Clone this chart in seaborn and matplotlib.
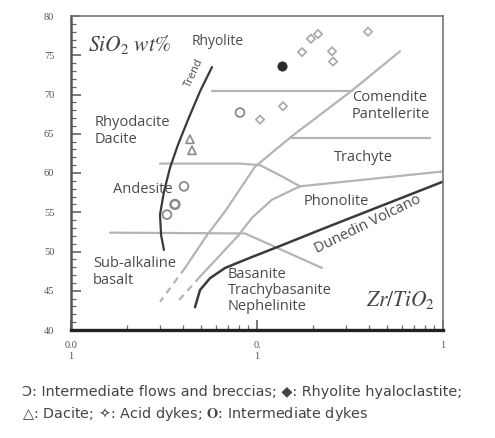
import numpy as np
import pandas as pd
import matplotlib
matplotlib.use("Agg")
import matplotlib.pyplot as plt
import seaborn as sns

# ---------------- data (Zr/TiO2, SiO2 wt%) ----------------
flows_zr = [0.0405, 0.0328, 0.0810]
flows_si = [58.3, 54.7, 67.7]
dykes_zr = [0.0362]
dykes_si = [56.0]
dacite_zr = [0.0436, 0.0447]
dacite_si = [64.3, 62.9]
acid_zr = [0.1038, 0.138, 0.1746, 0.195, 0.2128, 0.2531, 0.2563, 0.3953]
acid_si = [66.8, 68.5, 75.4, 77.1, 77.7, 75.5, 74.2, 78.0]
hyalo_zr = [0.1362]
hyalo_si = [73.6]

# field boundaries (gray)
b_rhy_zr = [0.0573, 0.324]
b_rhy_si = [70.5, 70.5]
b_diag1_zr = [0.587, 0.324, 0.1542, 0.0975, 0.0673, 0.0539, 0.0410]
b_diag1_si = [75.5, 70.5, 64.7, 60.8, 55.1, 52.1, 47.9]
b_diag1d_zr = [0.0410, 0.0301]
b_diag1d_si = [47.9, 43.6]
b_trach_zr = [0.1542, 0.8513]
b_trach_si = [64.5, 64.5]
b_and_zr = [0.0301, 0.081, 0.1038, 0.1329, 0.1703]
b_and_si = [61.2, 61.2, 61.0, 59.7, 58.3]
b_phon_zr = [0.1703, 1.0]
b_phon_si = [58.3, 60.2]
b_diag2_zr = [0.1703, 0.1204, 0.0940, 0.0791, 0.0494]
b_diag2_si = [58.3, 56.6, 54.3, 52.0, 46.8]
b_diag2d_zr = [0.0494, 0.0371]
b_diag2d_si = [46.8, 43.5]
b_bas_zr = [0.0162, 0.0862, 0.2237]
b_bas_si = [52.4, 52.3, 47.9]

# dark lines
trend_zr = [0.0573, 0.0494, 0.0426, 0.0376, 0.0341, 0.0316, 0.0301, 0.0305, 0.0316]
trend_si = [73.5, 70.4, 66.8, 63.6, 60.7, 57.6, 54.7, 52.1, 50.2]
dun_zr = [0.0464, 0.0494, 0.0559, 0.0673, 0.0917, 0.1329, 0.2320, 1.0]
dun_si = [42.9, 45.1, 46.6, 47.9, 49.2, 50.7, 53.0, 58.9]

y_ticks = [40, 45, 50, 55, 60, 65, 70, 75, 80]
x_ticks = [0.01, 0.1, 1]
x_ticklabels = ["0.0\n1", "0.\n1", "1"]

# ---------------- figure ----------------
sns.set_style("white")
plt.rcParams['font.family'] = ['Open Sans', 'DejaVu Sans']
plt.rcParams['mathtext.fontset'] = 'stix'

fig = plt.figure(figsize=(4.95, 4.38), dpi=100)
ax = fig.add_axes([71/495, 1-330/438, 372/495, 314/438])
ax.set_xscale('log')
ax.set_xlim(0.01, 1)
ax.set_ylim(40, 80)

gray = '#b4b4b4'
dark = '#3a3a3a'

def line(xs, ys, color, lw, ls='-'):
    df = pd.DataFrame({'x': xs, 'y': ys})
    sns.lineplot(data=df, x='x', y='y', sort=False, estimator=None, ax=ax,
                 color=color, lw=lw, ls=ls)

for xs, ys in [(b_rhy_zr, b_rhy_si), (b_diag1_zr, b_diag1_si), (b_trach_zr, b_trach_si),
               (b_and_zr, b_and_si), (b_phon_zr, b_phon_si), (b_diag2_zr, b_diag2_si),
               (b_bas_zr, b_bas_si)]:
    line(xs, ys, gray, 1.6)
line(b_diag1d_zr, b_diag1d_si, gray, 1.6, (0, (3, 2.5)))
line(b_diag2d_zr, b_diag2d_si, gray, 1.6, (0, (3, 2.5)))
line(trend_zr, trend_si, dark, 1.6)
line(dun_zr, dun_si, dark, 1.8)

# points
mc = '#8a8a8a'
sns.scatterplot(x=flows_zr, y=flows_si, ax=ax, marker='o', s=40, facecolor='none',
                edgecolor=mc, linewidth=1.3)
sns.scatterplot(x=dykes_zr, y=dykes_si, ax=ax, marker='o', s=40, facecolor='none',
                edgecolor=mc, linewidth=1.8)
sns.scatterplot(x=dacite_zr, y=dacite_si, ax=ax, marker='^', s=35, facecolor='none',
                edgecolor=mc, linewidth=1.2)
sns.scatterplot(x=acid_zr, y=acid_si, ax=ax, marker='D', s=18, facecolor='none',
                edgecolor='#a8a8a8', linewidth=1.2)
sns.scatterplot(x=hyalo_zr, y=hyalo_si, ax=ax, marker='o', s=45, color='#2a2a2a',
                edgecolor='#2a2a2a', linewidth=0.5)

# axes styling
for side in ['top', 'right']:
    ax.spines[side].set_color('#777777')
    ax.spines[side].set_linewidth(1.2)
ax.spines['left'].set_color('#555555')
ax.spines['left'].set_linewidth(1.8)
ax.spines['bottom'].set_color('#222222')
ax.spines['bottom'].set_linewidth(2.4)

ax.set_yticks(y_ticks)
ax.set_yticks(np.arange(40, 81, 1), minor=True)
ax.set_xticks(x_ticks)
ax.set_xticklabels(x_ticklabels)
ax.tick_params(axis='both', which='major', direction='in', length=7, width=1.1,
               color='#555555', labelsize=7.5, labelcolor='#555555')
ax.tick_params(axis='both', which='minor', direction='in', length=3.5, width=0.9,
               color='#666666')
ax.tick_params(axis='y', which='both', left=True, right=False, pad=12)
ax.tick_params(axis='x', which='both', bottom=True, top=False, pad=8)
for t in ax.get_yticklabels() + ax.get_xticklabels():
    t.set_family('Liberation Serif')
ax.set_xlabel('')
ax.set_ylabel('')

# labels
tc = '#4a4a4a'
fs = 10.5
ax.text(0.0123, 76.4, r'$SiO_2\ wt\%$', fontsize=15.5, color='#444444', ha='left', va='center')
ax.text(0.0616, 76.7, 'Rhyolite', fontsize=10, color=tc, ha='center', va='center')
ax.text(0.01346, 65.4, 'Rhyodacite\nDacite', fontsize=fs, color=tc, ha='left', va='center',
        linespacing=1.2)
ax.text(0.0168, 57.9, 'Andesite', fontsize=fs, color=tc, ha='left', va='center')
ax.text(0.01313, 47.4, 'Sub-alkaline\nbasalt', fontsize=fs, color=tc, ha='left', va='center',
        linespacing=1.2)
ax.text(0.324, 68.5, 'Comendite\nPantellerite', fontsize=fs, color=tc, ha='left', va='center',
        linespacing=1.2)
ax.text(0.3716, 62.0, 'Trachyte', fontsize=fs, color=tc, ha='center', va='center')
ax.text(0.266, 56.4, 'Phonolite', fontsize=fs, color=tc, ha='center', va='center')
ax.text(0.395, 53.4, 'Dunedin Volcano', fontsize=fs, color=tc, ha='center', va='center',
        rotation=26, rotation_mode='anchor')
ax.text(0.0698, 45.0, 'Basanite\nTrachybasanite\nNephelinite', fontsize=fs, color=tc,
        ha='left', va='center', linespacing=1.1)
ax.text(0.906, 43.8, r'$Zr/TiO_2$', fontsize=15.5, color='#444444', ha='right', va='center')
ax.text(0.0458, 72.8, 'Trend', fontsize=8, color=tc, ha='center', va='center',
        rotation=65, rotation_mode='anchor')

# legend text below
lfam = ['DejaVu Sans', 'Noto Sans CJK SC']
lfs = 10.4
fig.text(22/495, 1-392/438,
         'Ɔ: Intermediate flows and breccias; ◆: Rhyolite hyaloclastite;',
         fontsize=lfs, color='#444444', ha='left', va='center', family=lfam)
fig.text(22/495, 1-414/438,
         '△: Dacite; ✧: Acid dykes; $\\mathbf{O}$: Intermediate dykes',
         fontsize=lfs, color='#444444', ha='left', va='center', family=lfam)

fig.savefig('out.png', dpi=100)
